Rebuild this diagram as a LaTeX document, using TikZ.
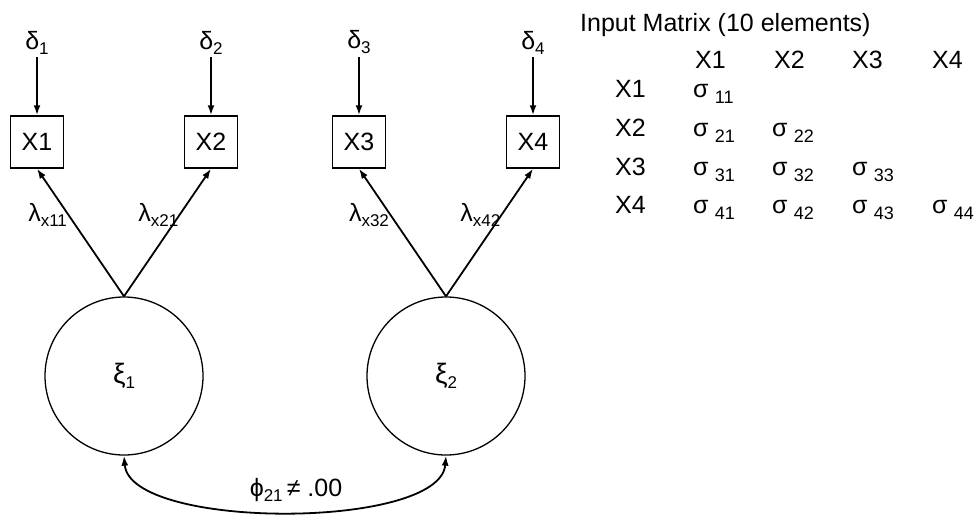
\documentclass[tikz,border=0pt]{standalone}
\usepackage{fontspec}
\setmainfont{Liberation Sans}
\usetikzlibrary{arrows.meta, positioning}
\newcommand{\sig}[1]{σ\hspace{0.25em}\raisebox{-6pt}{\fontsize{18}{18}\selectfont #1}}
\newcommand{\lsub}[2]{#1\raisebox{-5pt}{\fontsize{17}{17}\selectfont #2}}

\begin{document}
\begin{tikzpicture}[x=1pt, y=-1pt, font=\fontsize{25}{30}\selectfont,
          obsbox/.style={rectangle, draw, line width=1.5pt, minimum width=53pt, minimum height=52pt, inner sep=0pt},
          latent/.style={circle, draw, line width=1.3pt, minimum size=158pt, inner sep=0pt, font=\fontsize{28}{30}\selectfont},
          errnode/.style={inner sep=3pt},
          cell/.style={anchor=base west, inner sep=0pt},
          arrow/.style={-{Latex[length=10pt,width=7pt]}, line width=1.8pt},
          dblarrow/.style={{Latex[length=10pt,width=7pt]}-{Latex[length=10pt,width=7pt]}, line width=1.8pt}]
        \useasboundingbox (0,0) rectangle (976,514);

        % observed variables and their errors
        \node [obsbox] (x1) at (37,142) {X1};
        \node [obsbox] (x2) at (211,142) {X2};
        \node [obsbox] (x3) at (359,142) {X3};
        \node [obsbox] (x4) at (533,142) {X4};
        \node [errnode, above=58pt of x1] (d1) {\lsub{δ}{1}};
        \node [errnode, above=58pt of x2] (d2) {\lsub{δ}{2}};
        \node [errnode, above=58pt of x3] (d3) {\lsub{δ}{3}};
        \node [errnode, above=58pt of x4] (d4) {\lsub{δ}{4}};

        % latent factors
        \node [latent] (xi1) at (124,376) {\lsub{ξ}{1}};
        \node [latent] (xi2) at (446,376) {\lsub{ξ}{2}};

        \draw [arrow] (d1) -- (x1);
        \draw [arrow] (d2) -- (x2);
        \draw [arrow] (d3) -- (x3);
        \draw [arrow] (d4) -- (x4);

        \draw [arrow] (xi1.north) -- node [pos=0.64, anchor=east, inner sep=0.5pt] {\lsub{λ}{x11}} (x1.south);
        \draw [arrow] (xi1.north) -- node [pos=0.64, anchor=east, inner sep=0.5pt] {\lsub{λ}{x21}} (x2.south);
        \draw [arrow] (xi2.north) -- node [pos=0.64, anchor=east, inner sep=0.5pt] {\lsub{λ}{x32}} (x3.south);
        \draw [arrow] (xi2.north) -- node [pos=0.64, anchor=east, inner sep=0.5pt] {\lsub{λ}{x42}} (x4.south);

        \draw [dblarrow] (xi1.south) .. controls (130,530) and (440,530) .. (xi2.south);
        \node (phi) at (296,490) {\lsub{ϕ}{21}\,≠ .00};

        % input matrix
        \node [cell] (title) at (580,31) {Input Matrix (10 elements)};
        \node [cell] (h1) at (695,68) {X1};
        \node [cell] (h2) at (774,68) {X2};
        \node [cell] (h3) at (852,68) {X3};
        \node [cell] (h4) at (932,68) {X4};
        \node [cell] (r1) at (615,97) {X1};
        \node [cell] (r2) at (615,136) {X2};
        \node [cell] (r3) at (615,175) {X3};
        \node [cell] (r4) at (615,213) {X4};
        \node [cell] (s11) at (693,97) {\sig{11}};
        \node [cell] (s21) at (693,136) {\sig{21}};
        \node [cell] (s22) at (772,136) {\sig{22}};
        \node [cell] (s31) at (693,175) {\sig{31}};
        \node [cell] (s32) at (772,175) {\sig{32}};
        \node [cell] (s33) at (852,175) {\sig{33}};
        \node [cell] (s41) at (693,213) {\sig{41}};
        \node [cell] (s42) at (772,213) {\sig{42}};
        \node [cell] (s43) at (852,213) {\sig{43}};
        \node [cell] (s44) at (932,213) {\sig{44}};
      \end{tikzpicture}
\end{document}
